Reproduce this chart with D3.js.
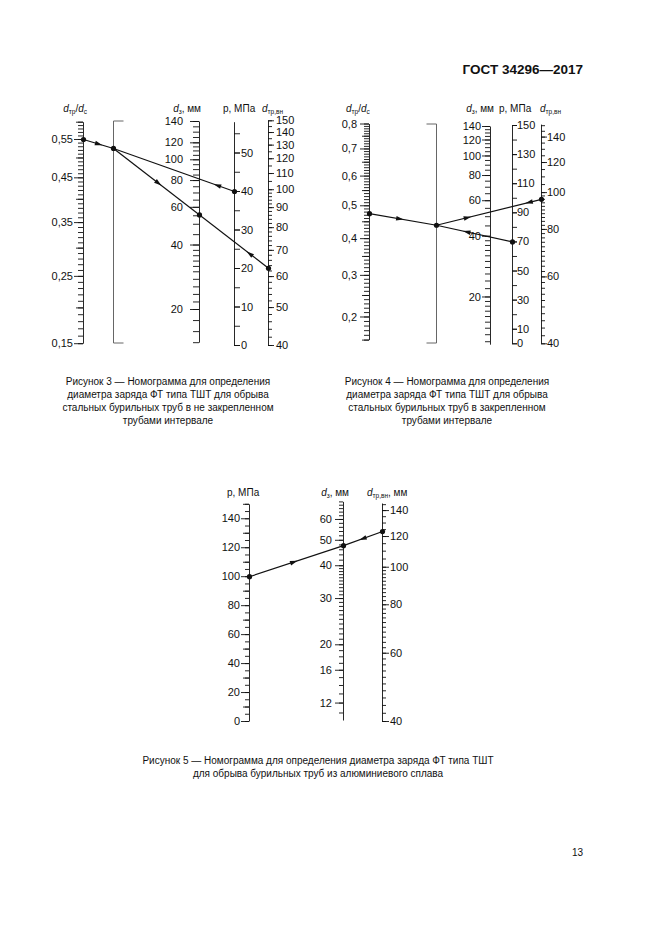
<!DOCTYPE html>
<html><head><meta charset="utf-8">
<script src="https://cdn.jsdelivr.net/npm/d3@7"></script>
<style>
body{margin:0;background:#fff;}
svg{display:block;}
</style></head><body>
<svg id="c" width="661" height="935"></svg>
<script>
// ---------- data ----------
const f3RatioLabels=[0.15,0.25,0.35,0.45,0.55];
const f3D3Labels=[20,40,60,80,100,120,140];
const f3PLabels=[0,10,20,30,40,50];
const f3DtrLabels=[40,50,60,70,80,90,100,110,120,130,140,150];
const f3Answer={ratio:0.55,d3:55.5,dtr:63,p:40};

const f4RatioLabels=[0.2,0.3,0.4,0.5,0.6,0.7,0.8];
const f4D3Labels=[20,40,60,80,100,120,140];
const f4PLabels=[0,10,30,50,70,90,110,130,150];
const f4DtrLabels=[40,60,80,100,120,140];
const f4Answer={ratio:0.475,d3:52.8,dtr:96,p:70};

const f5PLabels=[0,20,40,60,80,100,120,140];
const f5D3Labels=[12,16,20,30,40,50,60];
const f5DtrLabels=[40,60,80,100,120,140];
const f5Answer={p:100,d3:47.7,dtr:123.6};

const title="ГОСТ 34296—2017";
const pageNo="13";
const cap3=["Рисунок 3 — Номограмма для определения","диаметра заряда ФТ типа ТШТ для обрыва","стальных бурильных труб в не закрепленном","трубами интервале"];
const cap4=["Рисунок 4 — Номограмма для определения","диаметра заряда ФТ типа ТШТ для обрыва","стальных бурильных труб в закрепленном","трубами интервале"];
const cap5=["Рисунок 5 — Номограмма для определения диаметра заряда ФТ типа ТШТ","для обрыва бурильных труб из алюминиевого сплава"];

// ---------- helpers ----------
const FONT='"Liberation Sans", Arial, sans-serif';
const INK="#111";
const svg=d3.select("#c");
svg.append("rect").attr("width",661).attr("height",935).attr("fill","#fff");

function rng(a,b,s){const out=[];const n=Math.round((b-a)/s);for(let i=0;i<=n;i++)out.push(+(a+i*s).toFixed(4));return out;}
const fmtDec=p=>d=>d3.format("."+p+"f")(d).replace(".",",");

function drawAxis(o){
  const g=svg.append("g").attr("transform",`translate(${o.x},0)`);
  const sh=o.shift||0;
  const mk=o.orient==="left"?d3.axisLeft:d3.axisRight;
  o.layers.forEach((L,i)=>{
    const ax=mk(o.scale).tickValues(L.values.map(v=>v+sh)).tickSize(L.size).tickSizeOuter(0)
      .tickPadding(L.pad==null?2:L.pad).tickFormat(L.fmt?(d=>L.fmt(+(d-sh).toFixed(4))):()=>"");
    const lg=g.append("g").call(ax);
    lg.attr("font-family",FONT).attr("font-size",11);
    if(i>0) lg.select(".domain").remove();
    lg.selectAll("line,path").attr("stroke",INK).attr("stroke-width",0.9);
    lg.selectAll("text").attr("fill",INK);
  });
}
function label(x,y,anchor,parts,size){
  size=size||10;
  const t=svg.append("text").attr("x",x).attr("y",y).attr("text-anchor",anchor)
    .attr("font-size",size).attr("font-family",FONT).attr("fill",INK);
  let sub=false;
  parts.forEach(([txt,st])=>{
    const ts=t.append("tspan").text(txt);
    if(st.includes("i")) ts.attr("font-style","italic");
    if(st.includes("s")){ts.attr("font-size",size*0.65);if(!sub){ts.attr("dy",2);sub=true;}}
    else if(sub){ts.attr("dy",-2);sub=false;}
  });
}
function bracket(x,y0,y1,dir){
  svg.append("path").attr("d",`M${x+dir*10},${y0}H${x}V${y1}H${x+dir*10}`)
    .attr("fill","none").attr("stroke","#666").attr("stroke-width",1);
}
function seg(a,b){svg.append("line").attr("x1",a[0]).attr("y1",a[1]).attr("x2",b[0]).attr("y2",b[1]).attr("stroke",INK).attr("stroke-width",1.2);}
function dot(p){svg.append("circle").attr("cx",p[0]).attr("cy",p[1]).attr("r",2.6).attr("fill",INK);}
function arrow(a,b,t){
  const x=a[0]+(b[0]-a[0])*t,y=a[1]+(b[1]-a[1])*t;
  const ang=Math.atan2(b[1]-a[1],b[0]-a[0])*180/Math.PI;
  svg.append("path").attr("d","M4,0L-3.5,-2.3L-3.5,2.3Z").attr("transform",`translate(${x},${y}) rotate(${ang})`).attr("fill",INK);
}
function atX(a,b,x){return [x,a[1]+(b[1]-a[1])*(x-a[0])/(b[0]-a[0])];}
function caption(lines,cx,y0){
  lines.forEach((l,i)=>svg.append("text").attr("x",cx).attr("y",y0+i*13).attr("text-anchor","middle")
    .attr("font-size",10).attr("font-family",FONT).attr("fill",INK).text(l));
}

// ---------- page header ----------
svg.append("text").attr("x",583).attr("y",74).attr("text-anchor","end").attr("font-family",FONT)
  .attr("font-size",13.5).attr("font-weight","bold").attr("fill",INK).text(title);
svg.append("text").attr("x",583).attr("y",856).attr("text-anchor","end").attr("font-family",FONT)
  .attr("font-size",10).attr("fill",INK).text(pageNo);

// ================= Figure 3 =================
const X3={ratio:83,blank:113,d3:199,p:234,dtr:268};
const s3ratio=d3.scaleLog().domain([0.35,0.8]).range([343.2,121.7]); // input = ratio + 0.2
// d3 scale: logarithmic up to 120, top graduation 140 drawn at the top of the scale
const s3d3log=d3.scaleLog().domain([20,100]).range([309,159.3]);
const s3d3Knots=[14,20,30,40,50,60,70,80,90,100,110,120];
const s3d3=d3.scaleLinear().domain(s3d3Knots.concat([140])).range(s3d3Knots.map(s3d3log).concat([121]));
const s3p=d3.scaleLinear().domain([0,58]).range([345,121.7]);
const s3dtr=d3.scaleLog().domain([40,150]).range([345,120.3]);

drawAxis({x:X3.ratio,scale:s3ratio,orient:"left",shift:0.2,layers:[
  {values:rng(0.15,0.6,0.01),size:5},
  {values:rng(0.2,0.6,0.1),size:7},
  {values:f3RatioLabels,size:9,pad:1,fmt:fmtDec(2)}]});
bracket(X3.blank+0.5,121,343,1);
drawAxis({x:X3.d3,scale:s3d3,orient:"left",layers:[
  {values:rng(14,40,2).concat(rng(45,140,5)),size:6},
  {values:f3D3Labels,size:9,pad:7,fmt:d3.format("d")}]});
drawAxis({x:X3.p,scale:s3p,orient:"right",layers:[
  {values:rng(0,55,5),size:6},
  {values:f3PLabels,size:6,pad:1,fmt:d3.format("d")}]});
drawAxis({x:X3.dtr,scale:s3dtr,orient:"right",layers:[
  {values:rng(40,100,2).concat(rng(105,150,5)),size:4},
  {values:f3DtrLabels,size:6,pad:2,fmt:d3.format("d")}]});

label(87,112,"end",[["d","i"],["тр","s"],["/",""],["d","i"],["с","s"]]);
label(201,112,"end",[["d","i"],["з","s"],[", мм",""]]);
label(223,112,"start",[["p, МПа",""]]);
label(262,112,"start",[["d","i"],["тр,вн","s"]]);

{
  const r=[X3.ratio+0.5,s3ratio(f3Answer.ratio+0.2)+0.5];
  const dd=[X3.d3+0.5,s3d3(f3Answer.d3)+0.5];
  const dt=[X3.dtr+0.5,s3dtr(f3Answer.dtr)+0.5];
  const pp=[X3.p+0.5,s3p(f3Answer.p)+0.5];
  const pv=atX(dd,dt,X3.blank+0.5);
  seg(r,pv);seg(pv,dt);seg(pv,pp);
  arrow(r,pv,0.5);arrow(pv,dd,0.52);arrow(dt,dd,0.27);arrow(pp,pv,0.14);
  [r,pv,dd,dt,pp].forEach(dot);
}
caption(cap3,168,385);

// ================= Figure 4 =================
const X4={ratio:369,blank:436,d3:490,p:512,dtr:541};
const s4ratio=d3.scaleLog().domain([0.65,1.3]).range([339.6,123.5]); // input = ratio + 0.5
const s4d3=d3.scaleLog().domain([11.6,140]).range([344.2,126]);
const s4p=d3.scaleLinear().domain([0,150]).range([343.3,125]);
const s4dtr=d3.scaleLog().domain([40,151]).range([343.3,124.1]);

drawAxis({x:X4.ratio,scale:s4ratio,orient:"left",shift:0.5,layers:[
  {values:rng(0.15,0.8,0.01),size:5},
  {values:rng(0.15,0.75,0.1),size:7},
  {values:f4RatioLabels,size:9,pad:3,fmt:fmtDec(1)}]});
bracket(X4.blank+0.5,124,343,-1);
drawAxis({x:X4.d3,scale:s4d3,orient:"left",layers:[
  {values:rng(12,20,1).concat(rng(22,40,2),rng(45,140,5)),size:5},
  {values:f4D3Labels,size:8,pad:1,fmt:d3.format("d")}]});
drawAxis({x:X4.p,scale:s4p,orient:"right",layers:[
  {values:rng(0,150,10),size:5},
  {values:f4PLabels,size:5,pad:0,fmt:d3.format("d")}]});
drawAxis({x:X4.dtr,scale:s4dtr,orient:"right",layers:[
  {values:rng(40,100,2).concat(rng(105,150,5)),size:4},
  {values:f4DtrLabels,size:6,pad:0,fmt:d3.format("d")}]});

label(346,112,"start",[["d","i"],["тр","s"],["/",""],["d","i"],["с","s"]]);
label(494,112,"end",[["d","i"],["з","s"],[", мм",""]]);
label(499,112,"start",[["p, МПа",""]]);
label(540,112,"start",[["d","i"],["тр,вн","s"]]);

{
  const r=[X4.ratio+0.5,s4ratio(f4Answer.ratio+0.5)+0.5];
  const dd=[X4.d3+0.5,s4d3(f4Answer.d3)+0.5];
  const dt=[X4.dtr+0.5,s4dtr(f4Answer.dtr)+0.5];
  const pp=[X4.p+0.5,s4p(f4Answer.p)+0.5];
  const pv=atX(dd,dt,X4.blank+0.5);
  seg(r,pv);seg(pv,dt);seg(pv,pp);
  arrow(r,pv,0.45);arrow(pv,dd,0.57);arrow(dt,dd,0.24);arrow(pp,pv,0.6);
  [r,pv,dt,pp].forEach(dot);
}
caption(cap4,447,385);

// ================= Figure 5 =================
const X5={p:249,d3:343,dtr:382};
const s5p=d3.scaleLinear().domain([0,150]).range([721,503.8]);
const s5d3=d3.scaleLog().domain([10.3,70]).range([720,501.4]);
const s5dtr=d3.scaleLog().domain([40,146]).range([721,503]);

drawAxis({x:X5.p,scale:s5p,orient:"left",layers:[
  {values:rng(0,150,5),size:4},
  {values:rng(10,150,20),size:6},
  {values:f5PLabels,size:8,pad:1,fmt:d3.format("d")}]});
drawAxis({x:X5.d3,scale:s5d3,orient:"left",layers:[
  {values:rng(11,40,1).concat(rng(42,70,2)),size:4},
  {values:f5D3Labels,size:8,pad:3,fmt:d3.format("d")}]});
drawAxis({x:X5.dtr,scale:s5dtr,orient:"right",layers:[
  {values:rng(40,100,2).concat(rng(105,145,5)),size:4},
  {values:f5DtrLabels,size:7,pad:1,fmt:d3.format("d")}]});

label(227,496,"start",[["p, МПа",""]]);
label(349,496,"end",[["d","i"],["з","s"],[", мм",""]]);
label(367,496,"start",[["d","i"],["тр,вн","s"],[", мм",""]]);

{
  const pp=[X5.p+0.5,s5p(f5Answer.p)+0.5];
  const dd=[X5.d3+0.5,s5d3(f5Answer.d3)+0.5];
  const dt=[X5.dtr+0.5,s5dtr(f5Answer.dtr)+0.5];
  seg(pp,dd);seg(dd,dt);
  arrow(pp,dd,0.47);arrow(dt,dd,0.5);
  [pp,dd,dt].forEach(dot);
}
caption(cap5,318,764);
</script>
</body></html>
